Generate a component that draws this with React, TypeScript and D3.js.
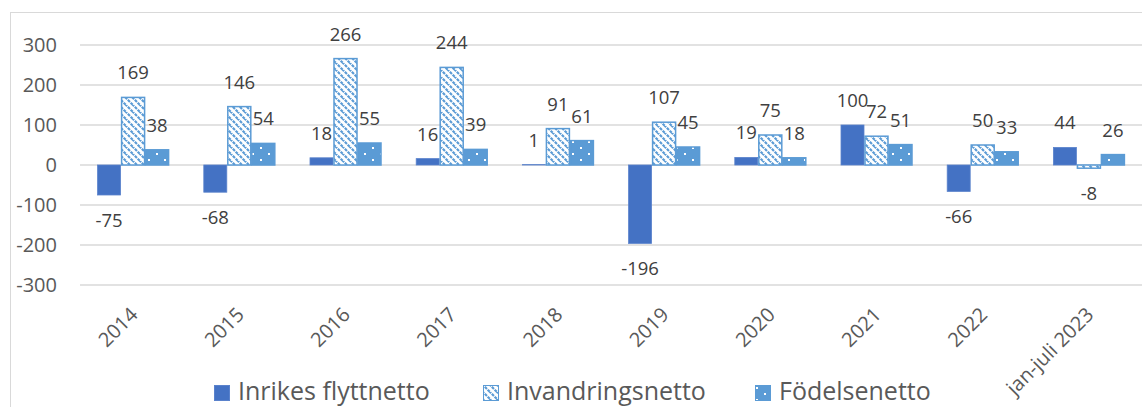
import { useEffect, useRef } from 'react'
import * as d3 from 'd3'

const categories = ['2014', '2015', '2016', '2017', '2018', '2019', '2020', '2021', '2022', 'jan-juli 2023']
const inrikes = [-75, -68, 18, 16, 1, -196, 19, 100, -66, 44]
const invandring = [169, 146, 266, 244, 91, 107, 75, 72, 50, -8]
const fodelse = [38, 54, 55, 39, 61, 45, 18, 51, 33, 26]
const seriesNames = ['Inrikes flyttnetto', 'Invandringsnetto', 'Födelsenetto']
const yTicks = [-300, -200, -100, 0, 100, 200, 300]

const W = 1142
const H = 407
const FONT = '"Open Sans", sans-serif'

export default function App() {
  const svgRef = useRef<SVGSVGElement>(null)

  useEffect(() => {
    document.body.style.margin = '0'
    if (!svgRef.current) return
    const svg = d3.select(svgRef.current)
    svg.selectAll('*').remove()

    const blue = '#4472C4'
    const light = '#5B9BD5'

    // patterns
    const defs = svg.append('defs')
    const diag = defs.append('pattern')
      .attr('id', 'pat-diag')
      .attr('patternUnits', 'userSpaceOnUse')
      .attr('width', 7)
      .attr('height', 7)
    diag.append('rect').attr('width', 7).attr('height', 7).attr('fill', '#fff')
    diag.append('path')
      .attr('d', 'M-1,-1 L8,8 M-8,-1 L1,8 M6,-1 L15,8')
      .attr('stroke', light)
      .attr('stroke-width', 2.2)
      .attr('stroke-dasharray', '3,1')

    const dots = defs.append('pattern')
      .attr('id', 'pat-dots')
      .attr('patternUnits', 'userSpaceOnUse')
      .attr('width', 16)
      .attr('height', 12)
    dots.append('rect').attr('width', 16).attr('height', 12).attr('fill', light)
    dots.append('rect').attr('x', 4).attr('y', 3).attr('width', 2).attr('height', 2).attr('fill', '#fff')
    dots.append('rect').attr('x', 12).attr('y', 9).attr('width', 2).attr('height', 2).attr('fill', '#fff')

    // chart border (cropped)
    svg.append('rect')
      .attr('x', 10.5).attr('y', 12.5)
      .attr('width', W).attr('height', H)
      .attr('fill', 'none')
      .attr('stroke', '#D9D9D9')
      .attr('stroke-width', 1)

    const plotLeft = 80
    const x0 = d3.scaleBand<string>().domain(categories).range([plotLeft, W])
    const bw = x0.bandwidth()
    const cluster = bw * 0.678
    const x1 = d3.scaleBand<number>().domain([0, 1, 2]).range([(bw - cluster) / 2, (bw + cluster) / 2])

    const y = d3.scaleLinear().domain([-300, 300]).range([285, 45])

    // gridlines + y labels
    svg.append('g')
      .selectAll('line')
      .data(yTicks)
      .join('line')
      .attr('x1', plotLeft).attr('x2', W)
      .attr('y1', d => y(d)).attr('y2', d => y(d))
      .attr('stroke', '#D9D9D9')
      .attr('stroke-width', 1.5)

    svg.append('g')
      .selectAll('text')
      .data(yTicks)
      .join('text')
      .attr('x', 57)
      .attr('y', d => y(d))
      .attr('dy', '0.35em')
      .attr('text-anchor', 'end')
      .attr('font-family', FONT)
      .attr('font-size', 20)
      .attr('fill', '#595959')
      .text(d => d)

    const series = [inrikes, invandring, fodelse]
    const fills = [blue, 'url(#pat-diag)', 'url(#pat-dots)']
    const strokes = ['#5a82cc', light, light]

    series.forEach((vals, si) => {
      const g = svg.append('g')
      g.selectAll('rect')
        .data(vals)
        .join('rect')
        .attr('x', (d, i) => (x0(categories[i]) ?? 0) + (x1(si) ?? 0) + 0.5)
        .attr('width', x1.bandwidth() - 1)
        .attr('y', d => y(Math.max(0, d)))
        .attr('height', d => Math.abs(y(d) - y(0)))
        .attr('fill', fills[si])
        .attr('stroke', strokes[si])
        .attr('stroke-width', si === 0 ? 0.8 : 1.5)

      g.selectAll('text')
        .data(vals)
        .join('text')
        .attr('x', (d, i) => (x0(categories[i]) ?? 0) + (x1(si) ?? 0) + x1.bandwidth() / 2)
        .attr('y', d => d >= 0 ? y(d) - 18 : y(d) + 32)
        .attr('text-anchor', 'middle')
        .attr('font-family', FONT)
        .attr('font-size', 18.5)
        .attr('fill', '#404040')
        .text(d => d)
    })

    // x labels
    svg.append('g')
      .selectAll('text')
      .data(categories)
      .join('text')
      .attr('transform', d => `translate(${(x0(d) ?? 0) + bw / 2 + 1},${311}) rotate(-45)`)
      .attr('text-anchor', 'end')
      .attr('dy', '0.35em')
      .attr('font-family', FONT)
      .attr('font-size', 20)
      .attr('fill', '#595959')
      .text(d => d)

    // legend
    const legendX = [214, 483, 755]
    const legend = svg.append('g')
    seriesNames.forEach((name, i) => {
      legend.append('rect')
        .attr('x', legendX[i] + 0.5).attr('y', 385.5)
        .attr('width', 15).attr('height', 15)
        .attr('fill', fills[i])
        .attr('stroke', strokes[i])
        .attr('stroke-width', 1)
      legend.append('text')
        .attr('x', legendX[i] + 24)
        .attr('y', 400)
        .attr('font-family', FONT)
        .attr('font-size', 25)
        .attr('fill', '#595959')
        .text(name)
    })
  }, [])

  return <svg ref={svgRef} width={W} height={H} style={{ display: 'block' }} />
}
